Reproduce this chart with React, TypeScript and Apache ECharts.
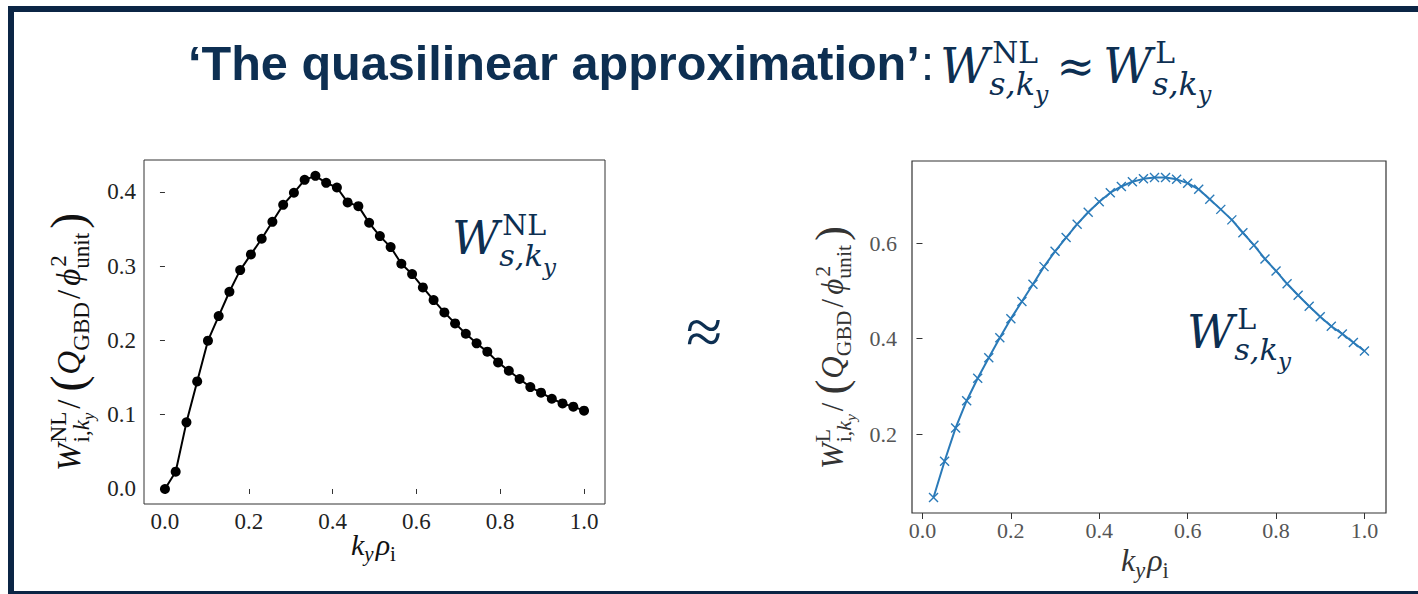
import React, { useEffect, useRef } from 'react';
import * as echarts from 'echarts';

// ---------- data ----------
const kyNL = [0, 0.0256, 0.0513, 0.0769, 0.1026, 0.1282, 0.1538, 0.1795, 0.2051, 0.2308, 0.2564, 0.2821, 0.3077, 0.3333, 0.359, 0.3846, 0.4103, 0.4359, 0.4615, 0.4872, 0.5128, 0.5385, 0.5641, 0.5897, 0.6154, 0.641, 0.6667, 0.6923, 0.7179, 0.7436, 0.7692, 0.7949, 0.8205, 0.8462, 0.8718, 0.8974, 0.9231, 0.9487, 0.9744, 1.0];
const wNL = [0.0, 0.0233, 0.0897, 0.1448, 0.1996, 0.2327, 0.2655, 0.2946, 0.3157, 0.3368, 0.3596, 0.3825, 0.3987, 0.4161, 0.4215, 0.4121, 0.4058, 0.3857, 0.3807, 0.3583, 0.3404, 0.3256, 0.3031, 0.2892, 0.2713, 0.2543, 0.2377, 0.2229, 0.209, 0.196, 0.1848, 0.1704, 0.1592, 0.148, 0.1372, 0.1296, 0.1215, 0.1152, 0.1108, 0.1054];
const kyL = [0.025, 0.05, 0.075, 0.1, 0.125, 0.15, 0.175, 0.2, 0.225, 0.25, 0.275, 0.3, 0.325, 0.35, 0.375, 0.4, 0.425, 0.45, 0.475, 0.5, 0.525, 0.55, 0.575, 0.6, 0.625, 0.65, 0.675, 0.7, 0.725, 0.75, 0.775, 0.8, 0.825, 0.85, 0.875, 0.9, 0.925, 0.95, 0.975, 1.0];
const wL = [0.067, 0.143, 0.213, 0.27, 0.317, 0.36, 0.402, 0.442, 0.478, 0.514, 0.551, 0.583, 0.612, 0.64, 0.665, 0.687, 0.706, 0.719, 0.729, 0.735, 0.738, 0.738, 0.734, 0.726, 0.713, 0.692, 0.671, 0.649, 0.622, 0.596, 0.567, 0.542, 0.515, 0.491, 0.468, 0.446, 0.426, 0.41, 0.392, 0.374];
const xTicks = [0, 0.2, 0.4, 0.6, 0.8, 1.0];
const yTicksNL = [0, 0.1, 0.2, 0.3, 0.4];
const yTicksL = [0.2, 0.4, 0.6];
const titleText = '\u2018The quasilinear approximation\u2019';

// ---------- math text helpers ----------
const NAVY = '#0d2f52';
const SERIF = '"Liberation Serif", serif';
const CAMB = '"DejaVu Serif", serif';
const SANS = '"Liberation Sans", Arial, sans-serif';

type Run = { t: string; s: number; it?: boolean; b?: boolean; dy?: number; g?: number; f?: string };
type Stack = { up: Run[]; dn: Run[] };
type Piece = Run | Stack;

let ctx: CanvasRenderingContext2D | null = null;
function runW(r: Run, fam: string) {
  if (!ctx) ctx = document.createElement('canvas').getContext('2d');
  ctx!.font = `${r.it ? 'italic ' : ''}${r.b ? 'bold ' : ''}${r.s}px ${r.f || fam}`;
  return ctx!.measureText(r.t).width;
}
function runsEls(runs: Run[], fam: string, color: string, x0: number, out: any[]) {
  let x = x0;
  for (const r of runs) {
    x += r.g || 0;
    out.push({
      type: 'text', x, y: (r.dy || 0) - 0.34 * r.s, silent: true,
      style: {
        text: r.t, fontSize: r.s, fontFamily: r.f || fam, fontStyle: r.it ? 'italic' : 'normal',
        fontWeight: r.b ? 'bold' : 'normal', fill: color, align: 'left', verticalAlign: 'middle',
        lineHeight: Math.round(r.s * 0.78)
      }
    });
    x += runW(r, fam);
  }
  return x - x0;
}
function mathEls(pieces: Piece[], fam: string, color: string) {
  const out: any[] = [];
  let x = 0;
  for (const p of pieces) {
    if ((p as Stack).up) {
      const st = p as Stack;
      const w1 = runsEls(st.up, fam, color, x, out);
      const w2 = runsEls(st.dn, fam, color, x, out);
      x += Math.max(w1, w2);
    } else {
      x += runsEls([p as Run], fam, color, x, out);
    }
  }
  return { children: out, width: x };
}

function yLabel(sup: string, B: number): Piece[] {
  const S = 0.7 * B;
  return [
    { t: 'W', s: B, it: true },
    { up: [{ t: sup, s: S, dy: -0.42 * B, g: 1 }], dn: [{ t: 'i,', s: S, dy: 0.28 * B, g: 1 }, { t: 'k', s: S, it: true, dy: 0.28 * B }, { t: 'y', s: 0.5 * B, it: true, dy: 0.42 * B }] },
    { t: '/', s: B, g: 3 },
    { t: '(', s: 1.45 * B, dy: 0.12 * B, g: 8 },
    { t: 'Q', s: B, it: true, g: 1 },
    { up: [], dn: [{ t: 'GBD', s: S, dy: 0.28 * B }] },
    { t: '/', s: B, g: 3 },
    { t: '\u03D5', s: B, it: true, g: 4 },
    { up: [{ t: '2', s: S, dy: -0.42 * B, g: 2 }], dn: [{ t: 'unit', s: S, dy: 0.28 * B }] },
    { t: ')', s: 1.45 * B, dy: 0.12 * B, g: 4 },
  ];
}
function xLabel(B: number): Piece[] {
  const S = 0.7 * B;
  return [
    { t: 'k', s: B, it: true },
    { t: 'y', s: S, it: true, dy: 0.22 * B },
    { t: '\u03C1', s: B, it: true, g: 2 },
    { t: 'i', s: S, dy: 0.22 * B },
  ];
}
function wLabel(sup: string, B: number): Piece[] {
  const S = 0.62 * B;
  return [
    { t: 'W', s: B, it: true },
    { up: [{ t: sup, s: S, dy: -0.4 * B, g: 3 }], dn: [{ t: 's,', s: 0.66 * B, it: true, dy: 0.26 * B }, { t: 'k', s: 0.66 * B, it: true, dy: 0.26 * B }, { t: 'y', s: 0.5 * B, it: true, dy: 0.45 * B }] },
  ];
}

export default function App() {
  const ref = useRef<HTMLDivElement>(null);
  useEffect(() => {
    if (!ref.current) return;
    const chart = echarts.init(ref.current, undefined, { renderer: 'svg' });

    const tickFmt = (v: number) => v.toFixed(1);
    const axisCommon = {
      type: 'value' as const,
      axisLine: { show: false },
      splitLine: { show: false },
    };

    // title layout
    const TF = 48.6;
    const titleW = runW({ t: titleText, s: TF, b: true }, SANS);
    const colonX = 188 + titleW + 1;
    const colonW = runW({ t: ':', s: TF }, SANS);
    const m1 = mathEls(wLabel('NL', 48), CAMB, NAVY);
    const m1x = Math.max(940, colonX + colonW + 4);
    const approxX = m1x + m1.width + 8;
    const approxW = runW({ t: '\u2248', s: 46 }, CAMB);
    const m2x = approxX + approxW + 8;
    const m2 = mathEls(wLabel('L', 48), CAMB, NAVY);

    const graphic: any[] = [
      // slide frame
      { type: 'rect', shape: { x: 8, y: 6, width: 1410, height: 6 }, style: { fill: '#0b2545' }, silent: true },
      { type: 'rect', shape: { x: 8, y: 6, width: 6, height: 588 }, style: { fill: '#0b2545' }, silent: true },
      { type: 'rect', shape: { x: 8, y: 591, width: 1410, height: 3 }, style: { fill: '#0b2545' }, silent: true },
      // title
      {
        type: 'text', x: 188, y: 80 - 0.35 * TF, silent: true,
        style: { text: titleText, fontSize: TF, fontWeight: 'bold', fontFamily: SANS, fill: NAVY, verticalAlign: 'middle' }
      },
      {
        type: 'text', x: colonX, y: 80 - 0.35 * TF, silent: true,
        style: { text: ':', fontSize: TF, fontFamily: SANS, fill: NAVY, verticalAlign: 'middle' }
      },
      { type: 'group', x: m1x, y: 82, children: m1.children },
      {
        type: 'text', x: approxX, y: 82 - 0.34 * 46, silent: true,
        style: { text: '\u2248', fontSize: 46, fontFamily: CAMB, fill: NAVY, verticalAlign: 'middle' }
      },
      { type: 'group', x: m2x, y: 82, children: m2.children },
      // big approx
      {
        type: 'text', x: 686, y: 331, silent: true,
        style: { text: '\u2248', fontSize: 66, fontFamily: SERIF, fill: NAVY, verticalAlign: 'middle' }
      },
      // in-plot labels
      { type: 'group', x: 452, y: 254, children: mathEls(wLabel('NL', 46), CAMB, NAVY).children },
      { type: 'group', x: 1187, y: 348, children: mathEls(wLabel('L', 46), CAMB, NAVY).children },
      // axis titles
      { type: 'group', x: 351, y: 555, children: mathEls(xLabel(30), SERIF, '#111').children },
      { type: 'group', x: 1121, y: 571, children: mathEls(xLabel(32), SERIF, '#333').children },
      { type: 'group', x: 80, y: 471, rotation: Math.PI / 2, children: mathEls(yLabel('NL', 33), SERIF, '#111').children },
      { type: 'group', x: 843, y: 469, rotation: Math.PI / 2, children: mathEls(yLabel('L', 31), SERIF, '#333').children },
    ];

    chart.setOption({
      animation: false,
      backgroundColor: '#ffffff',
      grid: [
        { left: 144, top: 160, width: 461, height: 344, show: true, borderColor: '#333', borderWidth: 1 },
        { left: 912, top: 161, width: 474, height: 352, show: true, borderColor: '#333', borderWidth: 1.2 },
      ],
      xAxis: [
        {
          ...axisCommon, gridIndex: 0, min: -0.05, max: 1.05,
          axisTick: { show: true, length: 5, lineStyle: { color: '#333' }, customValues: xTicks },
          axisLabel: { customValues: xTicks, formatter: tickFmt, margin: 6, fontSize: 23, fontFamily: SERIF, color: '#222' },
        },
        {
          ...axisCommon, gridIndex: 1, min: -0.0237, max: 1.0488,
          axisTick: { show: true, length: 6, lineStyle: { color: '#333' }, customValues: xTicks },
          axisLabel: { customValues: xTicks, formatter: tickFmt, margin: 6, fontSize: 22, fontFamily: SERIF, color: '#555' },
        },
      ],
      yAxis: [
        {
          ...axisCommon, gridIndex: 0, min: -0.0202, max: 0.4428,
          axisTick: { show: true, length: 5, lineStyle: { color: '#333' }, customValues: yTicksNL },
          axisLabel: { customValues: yTicksNL, formatter: tickFmt, margin: 8, fontSize: 23, fontFamily: SERIF, color: '#222' },
        },
        {
          ...axisCommon, gridIndex: 1, min: 0.0346, max: 0.7724,
          axisTick: { show: true, length: 6, lineStyle: { color: '#333' }, customValues: yTicksL },
          axisLabel: { customValues: yTicksL, formatter: tickFmt, margin: 15, fontSize: 22, fontFamily: SERIF, color: '#555' },
        },
      ],
      series: [
        {
          type: 'line', xAxisIndex: 0, yAxisIndex: 0,
          data: kyNL.map((x, i) => [x, wNL[i]]),
          symbol: 'circle', symbolSize: 10,
          itemStyle: { color: '#000' },
          lineStyle: { color: '#000', width: 2 },
        },
        {
          type: 'line', xAxisIndex: 1, yAxisIndex: 1,
          data: kyL.map((x, i) => [x, wL[i]]),
          symbol: 'path://M0,0L10,10M10,0L0,10', symbolSize: 9,
          itemStyle: { color: 'none', borderColor: '#2a7ab8', borderWidth: 1.4 },
          lineStyle: { color: '#2a7ab8', width: 2 },
        },
      ],
      graphic,
    });
    return () => chart.dispose();
  }, []);
  return <div ref={ref} style={{ position: 'fixed', left: 0, top: 0, width: 1418, height: 594, background: '#fff' }} />;
}
